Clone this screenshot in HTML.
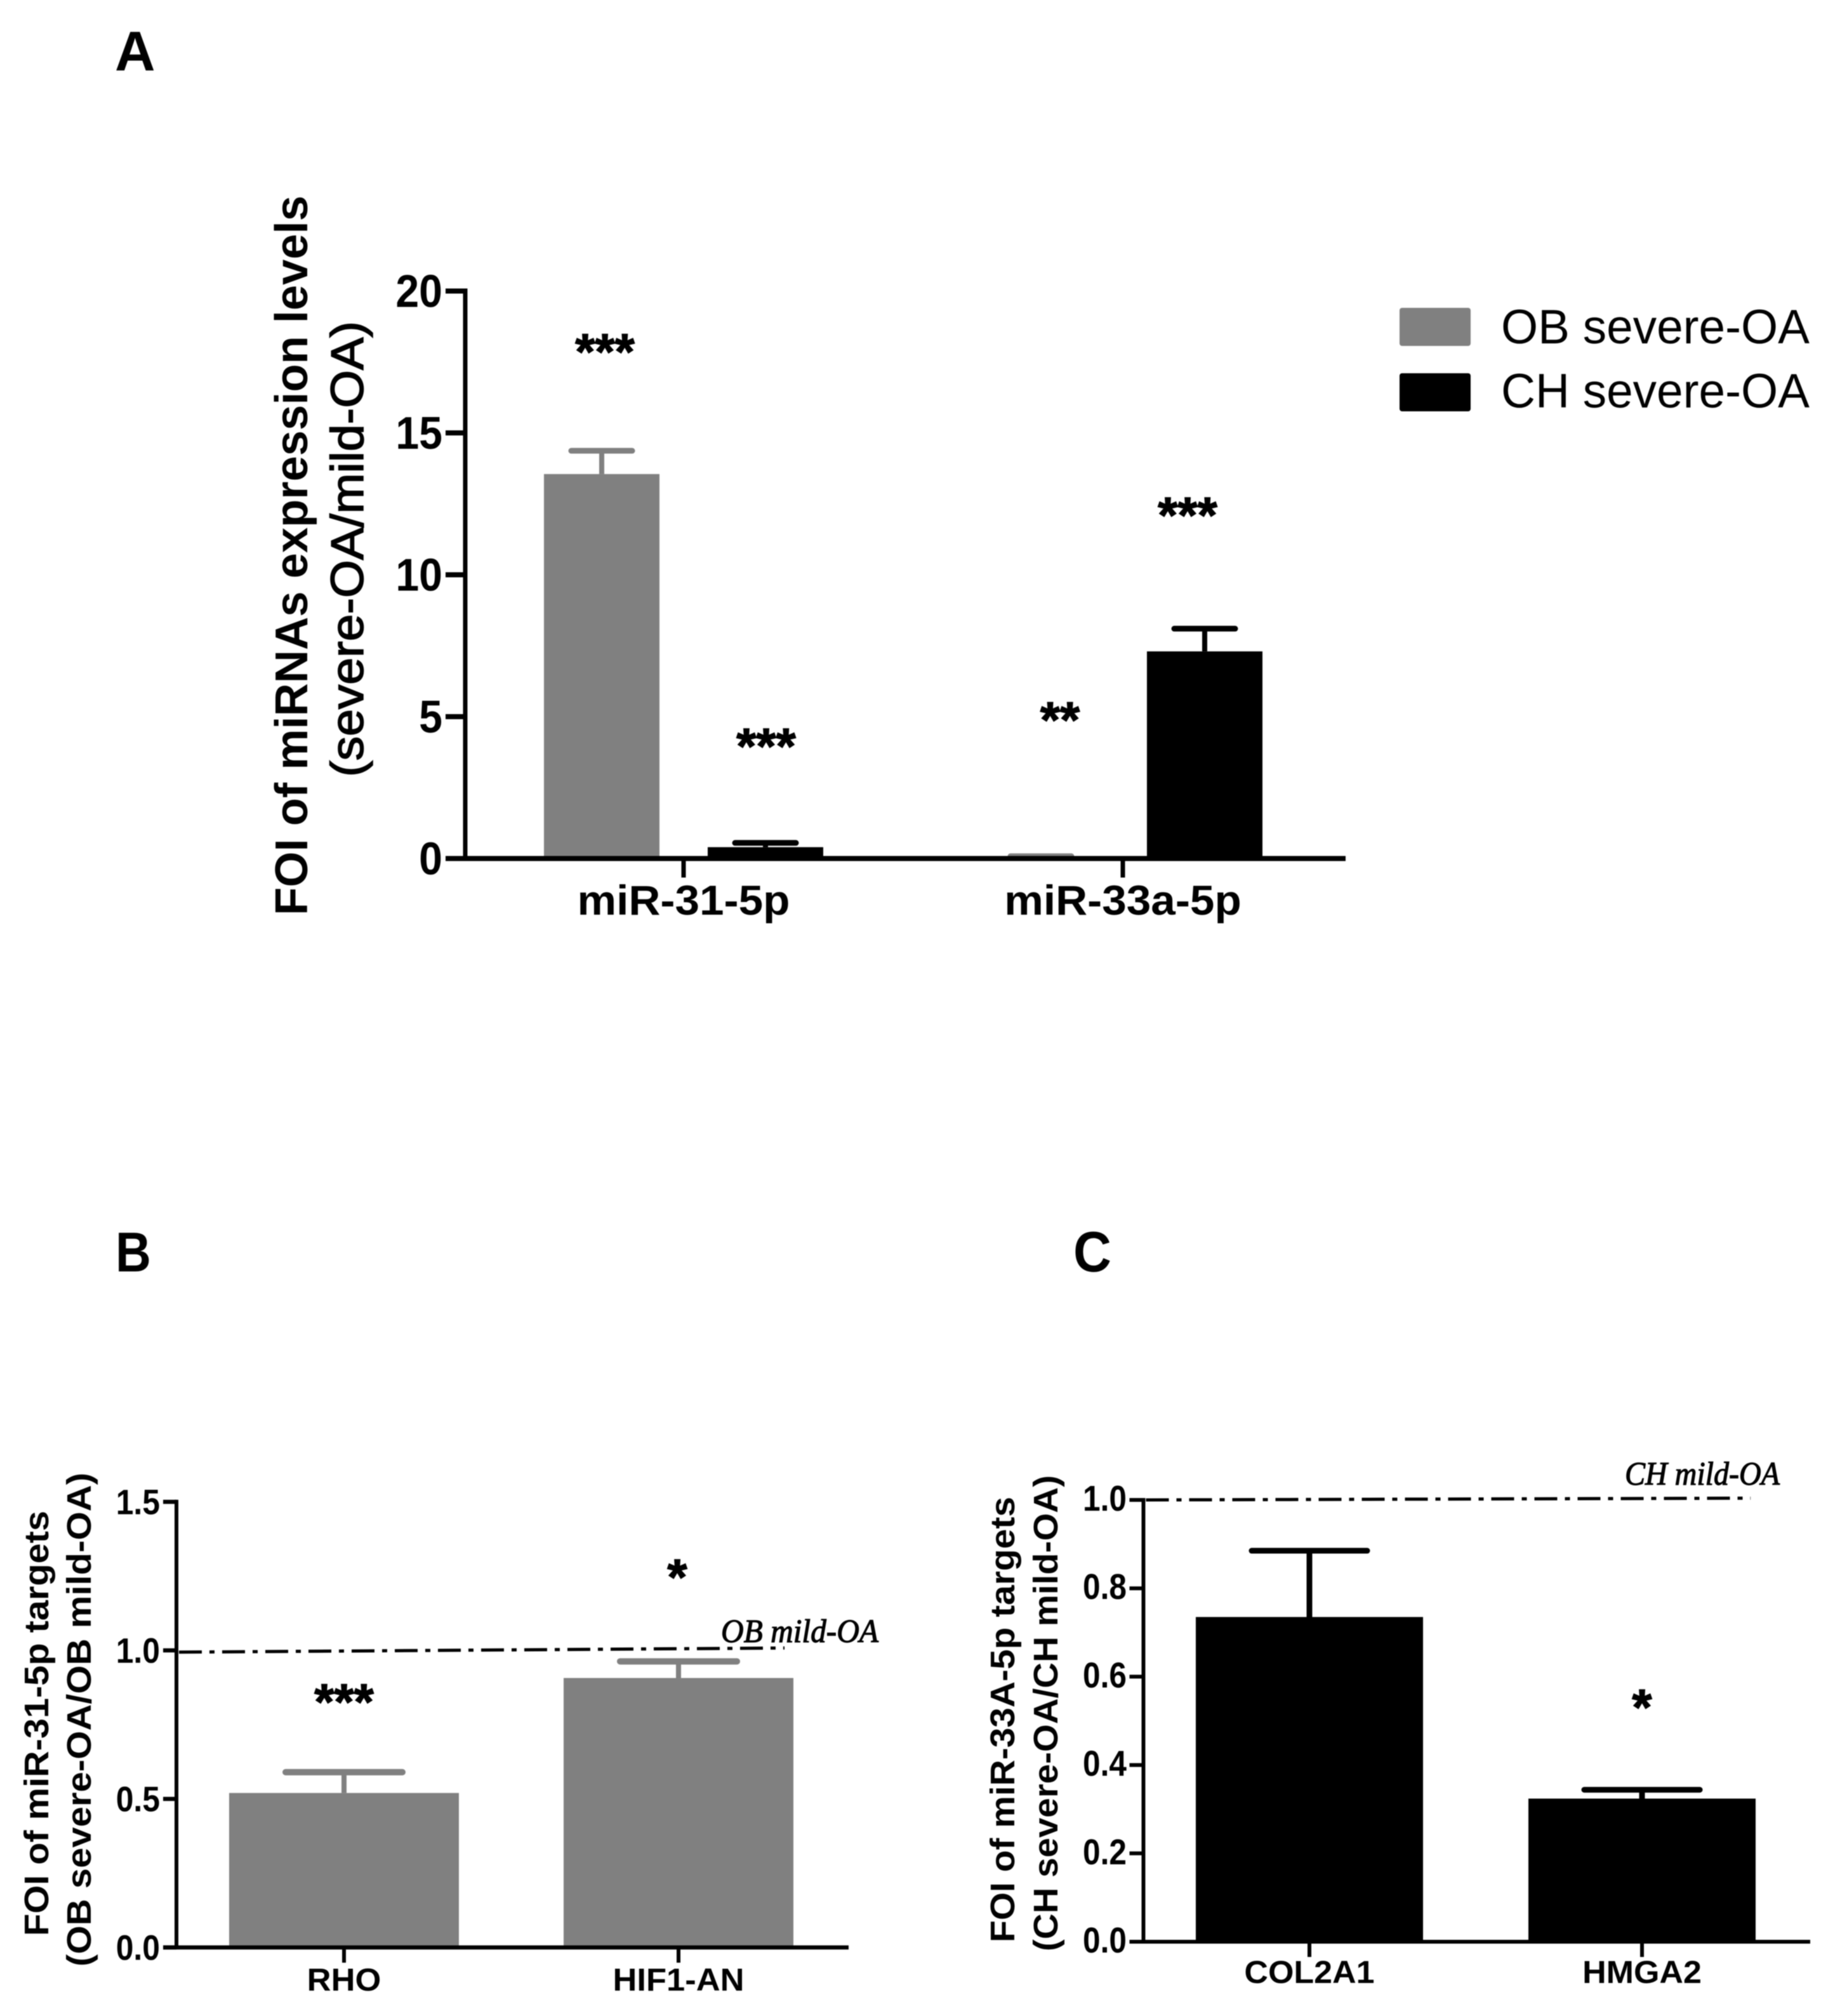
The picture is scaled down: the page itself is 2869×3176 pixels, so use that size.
<!DOCTYPE html>
<html>
<head>
<meta charset="utf-8">
<title>FOI of miRNAs and targets</title>
<style>
html,body{margin:0;padding:0;background:#fff;}
svg{display:block;font-family:"Liberation Sans",sans-serif;filter:blur(0.8px);}
</style>
</head>
<body>
<svg id="figure" xmlns="http://www.w3.org/2000/svg" width="2869" height="3176" viewBox="0 0 2869 3176">
<rect width="2869" height="3176" fill="#fff"/>
<text x="181" y="111" font-weight="bold" font-size="88">A</text>
<text x="182" y="2003" font-weight="bold" font-size="88" textLength="56" lengthAdjust="spacingAndGlyphs">B</text>
<text x="1691" y="2003" font-weight="bold" font-size="90" textLength="60" lengthAdjust="spacingAndGlyphs">C</text>

<g>
<rect x="2205" y="485" width="112" height="60" rx="4" fill="#808080"/>
<text x="2365" y="541" font-size="76" textLength="486" lengthAdjust="spacingAndGlyphs">OB severe-OA</text>
<rect x="2205" y="588" width="112" height="60" rx="4" fill="#000"/>
<text x="2365" y="642" font-size="76" textLength="486" lengthAdjust="spacingAndGlyphs">CH severe-OA</text>
</g>

<text transform="translate(484,1442) rotate(-90)" font-weight="bold" font-size="72" textLength="1134" lengthAdjust="spacingAndGlyphs">FOI of miRNAs expression levels</text>
<text transform="translate(572,1224) rotate(-90)" font-size="72" stroke="#000" stroke-width="1.6" textLength="718" lengthAdjust="spacingAndGlyphs">(severe-OA/mild-OA)</text>

<text transform="translate(76,3050) rotate(-90)" font-weight="bold" font-size="54" textLength="670" lengthAdjust="spacingAndGlyphs">FOI of miR-31-5p targets</text>
<text transform="translate(143,3098) rotate(-90)" font-weight="bold" font-size="54" textLength="778" lengthAdjust="spacingAndGlyphs">(OB severe-OA/OB mild-OA)</text>

<text transform="translate(1598,3060) rotate(-90)" font-weight="bold" font-size="54" textLength="702" lengthAdjust="spacingAndGlyphs">FOI of miR-33A-5p targets</text>
<text transform="translate(1666,3074) rotate(-90)" font-weight="bold" font-size="54" textLength="750" lengthAdjust="spacingAndGlyphs">(CH severe-OA/CH mild-OA)</text>

<g id="panel-a"></g>
<g id="panel-b"></g>
<g id="panel-c"></g>
</svg>

<script>
// Panel A data
var aCategories = ['miR-31-5p', 'miR-33a-5p'];
var aObValues = [13.55, 0.05];
var aObErrors = [0.82, 0.03];
var aChValues = [0.4, 7.3];
var aChErrors = [0.15, 0.8];
var aObSig = ['***', '**'];
var aChSig = ['***', '***'];
var aObSigLevels = [18.0, 5.03];
var aChSigLevels = [4.1, 12.24];
var aTicks = [0, 5, 10, 15, 20];
var aTickLabels = ['0', '5', '10', '15', '20'];

// Panel B data
var bCategories = ['RHO', 'HIF1-AN'];
var bValues = [0.52, 0.907];
var bErrors = [0.07, 0.056];
var bSig = ['***', '*'];
var bSigLevels = [0.84, 1.26];
var bTicks = [0, 0.5, 1, 1.5];
var bTickLabels = ['0.0', '0.5', '1.0', '1.5'];
var bRefLevels = [0.994, 1.008];

// Panel C data
var cCategories = ['COL2A1', 'HMGA2'];
var cValues = [0.735, 0.324];
var cErrors = [0.15, 0.02];
var cSig = ['', '*'];
var cSigLevels = [0, 0.54];
var cTicks = [0, 0.2, 0.4, 0.6, 0.8, 1];
var cTickLabels = ['0.0', '0.2', '0.4', '0.6', '0.8', '1.0'];
var cRefLevels = [1.0, 1.004];

var NS = 'http://www.w3.org/2000/svg';

function make(parent, tag, attrs, content) {
  var el = document.createElementNS(NS, tag);
  for (var k in attrs) { el.setAttribute(k, attrs[k]); }
  if (content !== undefined) { el.textContent = content; }
  parent.appendChild(el);
  return el;
}

function linearScale(y0Pixel, yPerUnit) {
  return function (v) { return y0Pixel - v * yPerUnit; };
}

function bandScale(start, step) {
  return function (i) { return start + (i + 0.5) * step; };
}

function stretch(el, factor) {
  el.setAttribute('textLength', el.getComputedTextLength() * factor);
  el.setAttribute('lengthAdjust', 'spacingAndGlyphs');
}

function drawAxes(g, opt, y, x, cats, ticks, labels) {
  var yTop = y(ticks[ticks.length - 1]);
  var yAxis = make(g, 'line', {x1: opt.axisX, x2: opt.axisX, y1: yTop - opt.axisW / 2, y2: y(0), stroke: '#000', 'stroke-width': opt.yAxisW});
  
  
  var xAxis = make(g, 'line', {x1: opt.axisX - opt.tickLen, x2: opt.axisEnd, y1: y(0), y2: y(0), stroke: '#000', 'stroke-width': opt.axisW});
  
  
  ticks.forEach(function (t, i) {
    var tick = make(g, 'line', {x1: opt.axisX - opt.tickLen, x2: opt.axisX, y1: y(t), y2: y(t), stroke: '#000', 'stroke-width': opt.axisW});
    
    
    var lab = make(g, 'text', {x: opt.tickLabelX, y: y(t) + opt.tickFont * 0.35 + opt.tickDy, 'text-anchor': 'end', 'font-size': opt.tickFont, 'font-weight': 'bold'}, labels[i]);
    
    
    stretch(lab, opt.tickStretch);
  });
  cats.forEach(function (c, i) {
    var tick = make(g, 'line', {x1: x(i), x2: x(i), y1: y(0), y2: y(0) + opt.xTickLen, stroke: '#000', 'stroke-width': opt.yAxisW});
    
    
    var lab = make(g, 'text', {x: x(i), y: opt.labelY, 'text-anchor': 'middle', 'font-size': opt.labelFont, 'font-weight': 'bold'}, c);
    
    
    stretch(lab, opt.labelStretch);
  });
}

function drawBar(g, cx, width, capWidth, value, err, y, color, capW, stemW) {
  if (err > 0) {
    var stem = make(g, 'line', {x1: cx, x2: cx, y1: y(value), y2: y(value + err), stroke: color, 'stroke-width': stemW});
    
    
    var cap = make(g, 'line', {x1: cx - capWidth / 2, x2: cx + capWidth / 2, y1: y(value + err), y2: y(value + err), stroke: color, 'stroke-width': capW, 'stroke-linecap': 'round'});
    
    
  }
  var bar = make(g, 'rect', {x: cx - width / 2, y: y(value), width: width, height: y(0) - y(value), fill: color});
  
  
}

function drawSig(g, cx, level, label, y, size) {
  if (!label) { return; }
  var s = make(g, 'text', {x: cx, y: y(level) + size * 0.42, 'text-anchor': 'middle', 'font-size': size, 'font-weight': 'bold', stroke: '#000', 'stroke-width': 1.5}, label);
  
  
}

function drawRef(g, opt, y, levels, text) {
  var line = make(g, 'line', {x1: opt.axisX + 4, x2: opt.refEnd, y1: y(levels[0]), y2: y(levels[1]), stroke: '#000', 'stroke-width': 5, 'stroke-dasharray': '36 12 8 12'});
  
  
  var lab = make(g, 'text', {x: opt.refLabelX, y: opt.refLabelY, 'font-family': '"Liberation Serif",serif', 'font-style': 'italic', 'font-size': 52, stroke: '#000', 'stroke-width': 1.2, textLength: opt.refLabelW, lengthAdjust: 'spacingAndGlyphs'}, text);
  
  
}

// Panel A
(function () {
  var g = document.getElementById('panel-a');
  var y = linearScale(1352.5, 44.7);
  var x = bandScale(731, 692);
  var opt = {axisX: 733, axisEnd: 2120, axisW: 8, yAxisW: 7, tickLen: 31, xTickLen: 30, tickLabelX: 697, tickFont: 72, tickStretch: 0.92, tickDy: 0, labelY: 1441, labelFont: 66, labelStretch: 1.05};
  aCategories.forEach(function (c, i) {
    var off = 129;
    drawBar(g, x(i) - off, i === 0 ? 182 : 96, 96, aObValues[i], aObErrors[i], y, '#808080', 9, 8);
    drawBar(g, x(i) + off, 182, 96, aChValues[i], aChErrors[i], y, '#000', 9, 8);
    drawSig(g, x(i) - off + (i === 0 ? 5 : 30), aObSigLevels[i], aObSig[i], y, 80);
    drawSig(g, x(i) + off + (i === 0 ? 1 : -27), aChSigLevels[i], aChSig[i], y, 80);
  });
  drawAxes(g, opt, y, x, aCategories, aTicks, aTickLabels);
})();

// Panel B
(function () {
  var g = document.getElementById('panel-b');
  var y = linearScale(3068, 468);
  var x = bandScale(278.5, 527);
  var opt = {axisX: 278, axisEnd: 1337, axisW: 6.5, yAxisW: 6, tickLen: 21, xTickLen: 24, tickLabelX: 252, tickFont: 56, tickStretch: 0.89, tickDy: 0, labelY: 3136, labelFont: 50, labelStretch: 1.05, refEnd: 1236, refLabelX: 1136, refLabelY: 2587, refLabelW: 248};
  bCategories.forEach(function (c, i) {
    drawBar(g, x(i), 362, 184, bValues[i], bErrors[i], y, '#808080', 10, 8);
    drawSig(g, x(i) - 2 * i, bSigLevels[i], bSig[i], y, 80);
  });
  drawRef(g, opt, y, bRefLevels, 'OB mild-OA');
  drawAxes(g, opt, y, x, bCategories, bTicks, bTickLabels);
})();

// Panel C
(function () {
  var g = document.getElementById('panel-c');
  var y = linearScale(3059, 696);
  var x = bandScale(1801, 524);
  var opt = {axisX: 1801.5, axisEnd: 2852, axisW: 6, yAxisW: 6, tickLen: 22, xTickLen: 24, tickLabelX: 1775, tickFont: 57, tickStretch: 0.87, tickDy: -3, labelY: 3124, labelFont: 50, labelStretch: 1.04, refEnd: 2758, refLabelX: 2560, refLabelY: 2339, refLabelW: 244};
  cCategories.forEach(function (c, i) {
    drawBar(g, x(i), 358, 182, cValues[i], cErrors[i], y, '#000', 9, 9);
    drawSig(g, x(i), cSigLevels[i], cSig[i], y, 80);
  });
  drawRef(g, opt, y, cRefLevels, 'CH mild-OA');
  drawAxes(g, opt, y, x, cCategories, cTicks, cTickLabels);
})();
</script>
</body>
</html>
